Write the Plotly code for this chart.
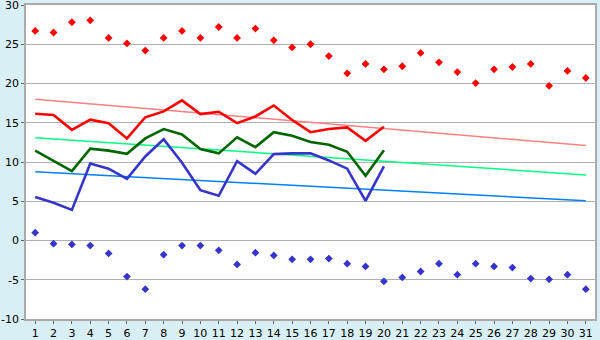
import plotly.graph_objects as go

days = list(range(1, 32))
days_obs = list(range(1, 21))

max_rec = [26.7, 26.5, 27.8, 28.05, 25.8, 25.1, 24.2, 25.8, 26.7, 25.8,
           27.2, 25.8, 27.0, 25.5, 24.6, 25.0, 23.5, 21.3, 22.5, 21.8,
           22.2, 23.9, 22.7, 21.45, 20.05, 21.8, 22.1, 22.5, 19.7, 21.6, 20.7]
min_rec = [1.0, -0.4, -0.5, -0.65, -1.65, -4.6, -6.2, -1.8, -0.65, -0.65,
           -1.25, -3.05, -1.55, -1.9, -2.4, -2.4, -2.3, -2.95, -3.3, -5.2,
           -4.7, -3.95, -2.95, -4.35, -2.95, -3.3, -3.45, -4.85, -4.95, -4.35, -6.2]

t_max = [16.15, 16.0, 14.1, 15.4, 14.95, 13.0, 15.7, 16.45, 17.85, 16.1,
         16.4, 14.95, 15.8, 17.2, 15.35, 13.8, 14.2, 14.4, 12.7, 14.5]
t_mean = [11.45, 10.1, 8.85, 11.7, 11.45, 11.05, 13.0, 14.2, 13.5, 11.65,
          11.1, 13.15, 11.9, 13.8, 13.35, 12.55, 12.2, 11.3, 8.25, 11.5]
t_min = [5.55, 4.8, 3.9, 9.8, 9.15, 7.85, 10.7, 12.9, 9.9, 6.4,
         5.7, 10.1, 8.5, 11.0, 11.1, 11.1, 10.2, 9.15, 5.05, 9.45]

trend_days = [1, 31]
norm_max = [18.0, 12.1]
norm_mean = [13.1, 8.35]
norm_min = [8.75, 5.05]

y_ticks = [-10, -5, 0, 5, 10, 15, 20, 25, 30]
y_labels = ["-10", "-5", "0", "5", "10", "15", "20", "25", "30"]

fig = go.Figure()
fig.add_trace(go.Scatter(x=trend_days, y=norm_max, mode="lines",
                         line=dict(color="#ff8080", width=1.5)))
fig.add_trace(go.Scatter(x=trend_days, y=norm_mean, mode="lines",
                         line=dict(color="#00ff80", width=1.5)))
fig.add_trace(go.Scatter(x=trend_days, y=norm_min, mode="lines",
                         line=dict(color="#0080ff", width=1.5)))
fig.add_trace(go.Scatter(x=days_obs, y=t_max, mode="lines",
                         line=dict(color="#ff0000", width=2.6)))
fig.add_trace(go.Scatter(x=days_obs, y=t_mean, mode="lines",
                         line=dict(color="#006600", width=2.6)))
fig.add_trace(go.Scatter(x=days_obs, y=t_min, mode="lines",
                         line=dict(color="#3535cc", width=2.6)))
fig.add_trace(go.Scatter(x=days, y=max_rec, mode="markers",
                         marker=dict(symbol="diamond", size=6, color="#ff0000")))
fig.add_trace(go.Scatter(x=days, y=min_rec, mode="markers",
                         marker=dict(symbol="diamond", size=6, color="#3535cc")))

fig.update_layout(
    width=600, height=340,
    margin=dict(l=26, r=5, t=5, b=21),
    paper_bgcolor="#d9eff6", plot_bgcolor="#ffffff",
    showlegend=False,
    font=dict(family="DejaVu Sans", size=12, color="#000000"),
)
fig.update_xaxes(range=[0.5, 31.5], tickmode="array", tickvals=days,
                 ticktext=[str(d) for d in days], automargin=False,
                 ticklabeloverflow="allow", ticklabelstandoff=0,
                 showgrid=False, zeroline=False,
                 showline=True, linecolor="#aaaaaa", linewidth=1.5, mirror=True,
                 ticks="outside", ticklen=3, tickcolor="#666666", tickfont=dict(size=11))
fig.update_yaxes(range=[-10, 30], tickmode="array", automargin=False,
                 ticklabeloverflow="allow",
                 tickvals=y_ticks, ticktext=y_labels,
                 showgrid=True, gridcolor="#b0b0b0", gridwidth=1.2, zeroline=False,
                 showline=True, linecolor="#aaaaaa", linewidth=1.5, mirror=True,
                 ticks="outside", ticklen=3, tickcolor="#666666", tickfont=dict(size=11))

fig.write_html("out.html")
